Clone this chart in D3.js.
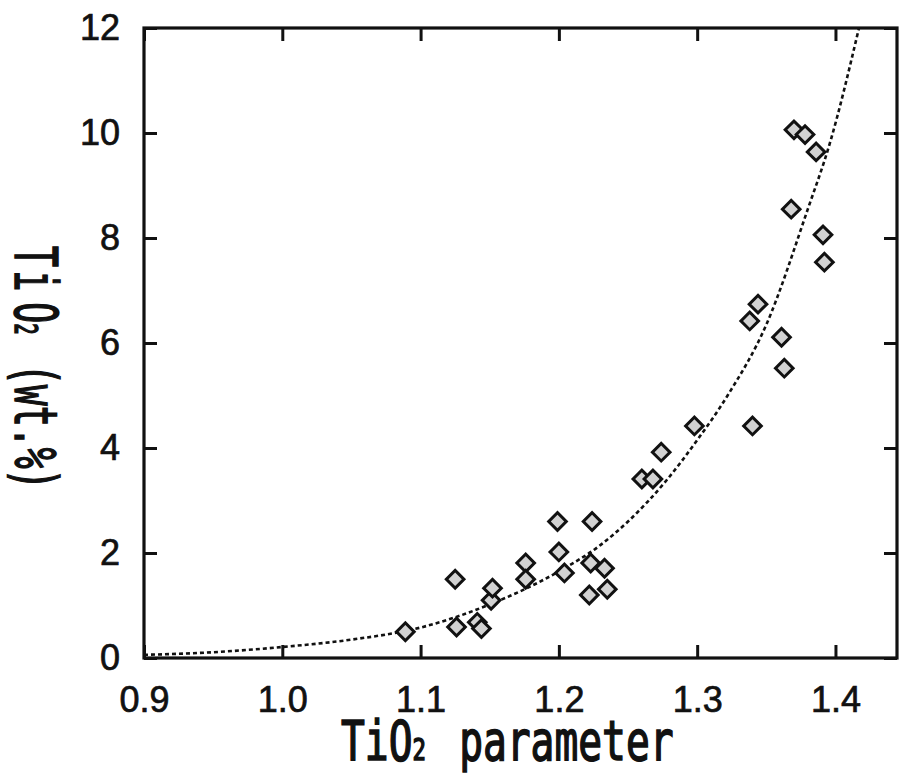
<!DOCTYPE html>
<html lang="en">
<head>
  <meta charset="UTF-8">
  <title>TiO2 vs TiO2 parameter</title>
  <script src="https://d3js.org/d3.v7.min.js"></script>
  <style>
    body { margin: 0; background: #fff; }
    svg { display: block; }
    .tick text { font-family: "Liberation Sans", Arial, sans-serif; font-size: 36px; fill: #111; stroke: #111; stroke-width: 0.7px; }
    .title { font-family: "DejaVu Sans Mono", monospace; fill: #111; stroke: #111; stroke-width: 1.6px; }
  </style>
</head>
<body>
  <svg id="chart" width="899" height="773"></svg>

  <script>
    // measured samples (x = TiO2 parameter, y = TiO2 wt.%)
    const sampleX = [1.089, 1.125, 1.126, 1.141, 1.144, 1.151, 1.152, 1.176, 1.176, 1.199, 1.200,
      1.204, 1.222, 1.223, 1.224, 1.233, 1.235, 1.260, 1.268, 1.274, 1.298, 1.338, 1.340, 1.344,
      1.361, 1.363, 1.368, 1.370, 1.378, 1.386, 1.391, 1.392];
    const sampleY = [0.50, 1.50, 0.59, 0.68, 0.56, 1.10, 1.33, 1.81, 1.50, 2.60, 2.02,
      1.62, 1.20, 1.81, 2.60, 1.71, 1.31, 3.41, 3.41, 3.92, 4.42, 6.42, 4.42, 6.74,
      6.11, 5.52, 8.55, 10.06, 9.97, 9.64, 8.06, 7.54];

    // fitted curve
    const curveX = [0.90, 0.95, 1.00, 1.05, 1.10, 1.15, 1.20, 1.23, 1.25, 1.278, 1.30, 1.322, 1.35, 1.38, 1.396, 1.417];
    const curveY = [0.06, 0.11, 0.21, 0.35, 0.58, 1.02, 1.65, 2.15, 2.60, 3.39, 4.15, 5.00, 6.35, 8.55, 9.81, 12.0];

    const xTicks = [0.9, 1.0, 1.1, 1.2, 1.3, 1.4];
    const yTicks = [0, 2, 4, 6, 8, 10, 12];

    const plotLeft = 144, plotRight = 897, plotTop = 28, plotBottom = 658;
    const svg = d3.select("#chart");

    const x = d3.scaleLinear().domain([0.9, 1.4445]).range([plotLeft, plotRight]);
    const y = d3.scaleLinear().domain([0, 12]).range([plotBottom, plotTop]);

    svg.append("defs").append("clipPath").attr("id", "plot")
      .append("rect").attr("x", plotLeft).attr("y", plotTop)
      .attr("width", plotRight - plotLeft).attr("height", plotBottom - plotTop);

    // axes, ticks pointing inward on all four sides
    const tick = 13;
    svg.append("g").attr("transform", `translate(0,${plotBottom})`)
      .call(d3.axisBottom(x).tickValues(xTicks).tickFormat(d3.format(".1f")).tickSizeInner(-tick).tickSizeOuter(0).tickPadding(28));
    svg.append("g").attr("transform", `translate(0,${plotTop})`)
      .call(d3.axisTop(x).tickValues(xTicks).tickFormat("").tickSizeInner(-tick).tickSizeOuter(0));
    svg.append("g").attr("transform", `translate(${plotLeft},0)`)
      .call(d3.axisLeft(y).tickValues(yTicks).tickSizeInner(-tick).tickSizeOuter(0).tickPadding(24));
    svg.append("g").attr("transform", `translate(${plotRight},0)`)
      .call(d3.axisRight(y).tickValues(yTicks).tickFormat("").tickSizeInner(-tick).tickSizeOuter(0));
    svg.selectAll(".domain").remove();
    svg.selectAll(".tick line").attr("stroke", "#111").attr("stroke-width", 3);

    svg.append("rect").attr("x", plotLeft).attr("y", plotTop)
      .attr("width", plotRight - plotLeft).attr("height", plotBottom - plotTop)
      .attr("fill", "none").attr("stroke", "#111").attr("stroke-width", 3.2);

    // dashed fit curve
    const line = d3.line().x((d, i) => x(curveX[i])).y(d => y(d)).curve(d3.curveMonotoneX);
    svg.append("path").datum(curveY)
      .attr("clip-path", "url(#plot)")
      .attr("d", line)
      .attr("fill", "none").attr("stroke", "#111").attr("stroke-width", 2.6).attr("stroke-dasharray", "4,3");

    // diamonds
    const diamond = d3.symbol(d3.symbolSquare, 155);
    svg.append("g").selectAll("path")
      .data(sampleX)
      .enter().append("path")
      .attr("d", diamond)
      .attr("transform", (d, i) => `translate(${x(d)},${y(sampleY[i])}) rotate(45)`)
      .attr("fill", "#d2d2d2").attr("stroke", "#111").attr("stroke-width", 3);

    // x axis title
    const xt = svg.append("text").attr("class", "title")
      .attr("transform", "translate(341,760) scale(0.72,1)")
      .attr("font-size", 55);
    xt.append("tspan").text("TiO");
    xt.append("tspan").attr("font-size", 31).text("2");
    xt.append("tspan").attr("dx", 13).text(" parameter");

    // y axis title, letters turned clockwise
    const yt = svg.append("text").attr("class", "title")
      .attr("transform", "translate(15,246) rotate(90) scale(0.59,1)")
      .attr("font-size", 59);
    yt.append("tspan").text("T");
    yt.append("tspan").attr("dx", 5.9).text("i");
    yt.append("tspan").attr("dx", 18.6).text("O");
    yt.append("tspan").attr("font-size", 32).text("2");
    yt.append("tspan").text(" ");
    yt.append("tspan").attr("dx", 14).text("(wt.%)");
  </script>
</body>
</html>
